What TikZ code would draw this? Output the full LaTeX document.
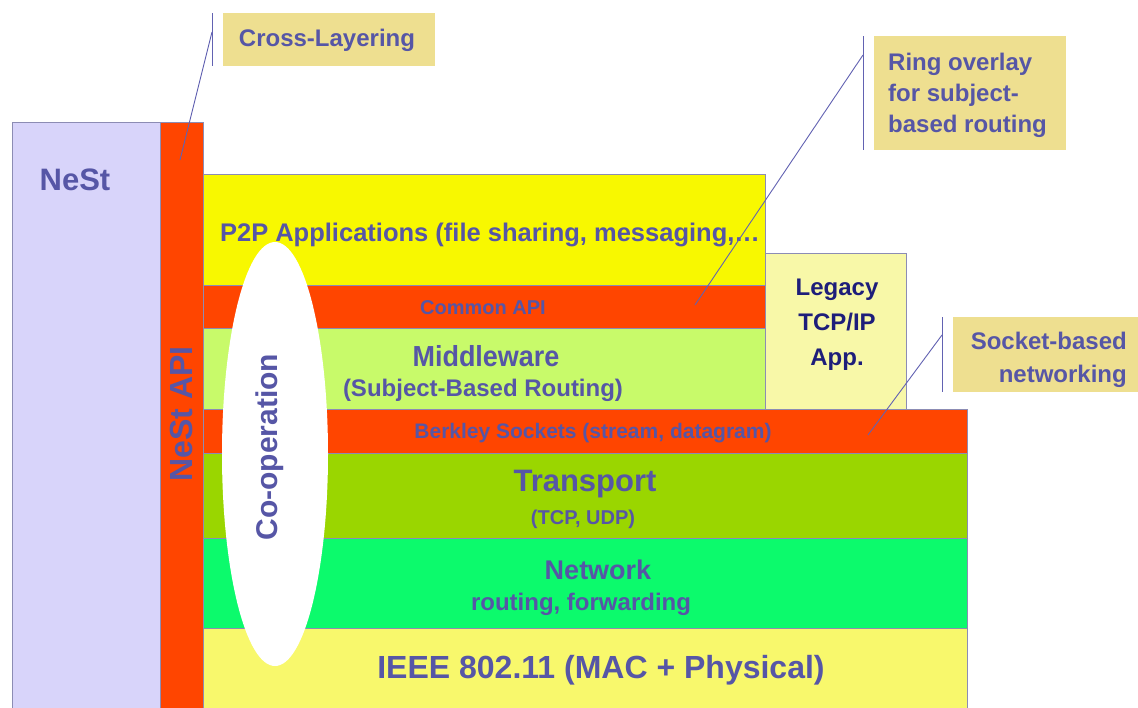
\documentclass[tikz,border=0pt]{standalone}
\usepackage{fontspec}
\setmainfont{Liberation Sans}
\usetikzlibrary{shapes.geometric}
\definecolor{txt}{HTML}{5656A6}
\definecolor{darktxt}{HTML}{1E1E7A}
\definecolor{apired}{HTML}{FF4500}
\definecolor{p2pyel}{HTML}{F8F800}
\definecolor{midgreen}{HTML}{C8FA6A}
\definecolor{trgreen}{HTML}{9AD600}
\definecolor{netgreen}{HTML}{0CFA6C}
\definecolor{phyyel}{HTML}{F8F86C}
\definecolor{legacyyel}{HTML}{F8F8A8}
\definecolor{nestlav}{HTML}{D8D4FA}
\definecolor{khaki}{HTML}{EEDF90}
\definecolor{edgecol}{HTML}{8C8CB4}
\definecolor{linecol}{HTML}{6262B2}
\begin{document}
\begin{tikzpicture}[x=1pt,y=-1pt,
  layer/.style={draw=edgecol, line width=0.8pt},
  lbl/.style={text=txt, font=\bfseries, inner sep=0pt},
  callline/.style={draw=linecol, line width=0.9pt}]
\useasboundingbox (0,0) rectangle (1138,707);
\fill[white] (0,0) rectangle (1138,707);
% NeSt column and API bar
\draw[layer, fill=nestlav] (12,122) rectangle (160,712);
\draw[layer, fill=apired] (160,122) rectangle (203,712);
% layers
\draw[layer, fill=p2pyel] (203,174) rectangle (765,285);
\draw[layer, fill=apired] (203,285) rectangle (765,328);
\draw[layer, fill=midgreen] (203,328) rectangle (765,409);
\draw[layer, fill=legacyyel] (765,253) rectangle (906,409);
\draw[layer, fill=apired] (203,409) rectangle (967,453);
\draw[layer, fill=trgreen] (203,453) rectangle (967,538);
\draw[layer, fill=netgreen] (203,538) rectangle (967,628);
\draw[layer, fill=phyyel] (203,628) rectangle (967,712);
% co-operation ellipse
\node[ellipse, fill=white, minimum width=106pt, minimum height=424pt, inner sep=0pt] (coop) at (275,454) {};
\node[lbl, rotate=90, font=\bfseries\fontsize{30}{34}\selectfont] (cooptxt) at (270,447) {Co-operation};
% texts
\node[lbl, font=\bfseries\fontsize{31}{36}\selectfont] (nest) at (75,180) {NeSt};
\node[lbl, rotate=90, font=\bfseries\fontsize{32}{36}\selectfont] (nestapi) at (181,414) {NeSt API};
\node[lbl, font=\bfseries\fontsize{25.5}{30}\selectfont] (p2p) at (490,235) {P2P Applications (file sharing, messaging,…};
\node[lbl, font=\bfseries\fontsize{20}{24}\selectfont] (capi) at (483,308) {Common API};
\node[lbl, xscale=0.93, font=\bfseries\fontsize{29}{34}\selectfont] (mid) at (486,356) {Middleware};
\node[lbl, font=\bfseries\fontsize{24}{28}\selectfont] (sbr) at (483,390) {(Subject-Based Routing)};
\node[lbl, text=darktxt, align=center, font=\bfseries\fontsize{24}{35}\selectfont] (legacy) at (837,325) {Legacy\\TCP/IP\\App.};
\node[lbl, font=\bfseries\fontsize{21}{24}\selectfont] (berk) at (593,433) {Berkley Sockets (stream, datagram)};
\node[lbl, font=\bfseries\fontsize{31}{34}\selectfont] (trans) at (585,484) {Transport};
\node[lbl, font=\bfseries\fontsize{20}{24}\selectfont] (tcpudp) at (583,519) {(TCP, UDP)};
\node[lbl, font=\bfseries\fontsize{27}{32}\selectfont] (net) at (598,570) {Network};
\node[lbl, font=\bfseries\fontsize{24}{28}\selectfont] (rf) at (581,604) {routing, forwarding};
\node[lbl, font=\bfseries\fontsize{32}{36}\selectfont] (ieee) at (601,670) {IEEE 802.11 (MAC + Physical)};
% callouts
\fill[khaki] (223,13) rectangle (435,66);
\node[lbl, font=\bfseries\fontsize{24}{28}\selectfont] (cross) at (327,40) {Cross-Layering};
\fill[khaki] (874,36) rectangle (1066,150);
\node[lbl, align=left, anchor=west, font=\bfseries\fontsize{24}{31}\selectfont] (ring) at (888,95) {Ring overlay\\for subject-\\based routing};
\fill[khaki] (953,317) rectangle (1138,392);
\node[lbl, align=right, anchor=east, font=\bfseries\fontsize{24}{33}\selectfont] (sock) at (1127,360) {Socket-based\\networking};
% callout lines
\coordinate (c1a) at (212,13); \coordinate (c1b) at (212,66);
\coordinate (c1k) at (212,32); \coordinate (c1e) at (180,160);
\draw[callline] (c1a) -- (c1b);
\draw[callline] (c1k) -- (c1e);
\coordinate (c2a) at (863,36); \coordinate (c2b) at (863,150);
\coordinate (c2k) at (863,55); \coordinate (c2e) at (695,305);
\draw[callline] (c2a) -- (c2b);
\draw[callline] (c2k) -- (c2e);
\coordinate (c3a) at (942,317); \coordinate (c3b) at (942,392);
\coordinate (c3k) at (942,335); \coordinate (c3e) at (868,435);
\draw[callline] (c3a) -- (c3b);
\draw[callline] (c3k) -- (c3e);
\end{tikzpicture}
\end{document}
